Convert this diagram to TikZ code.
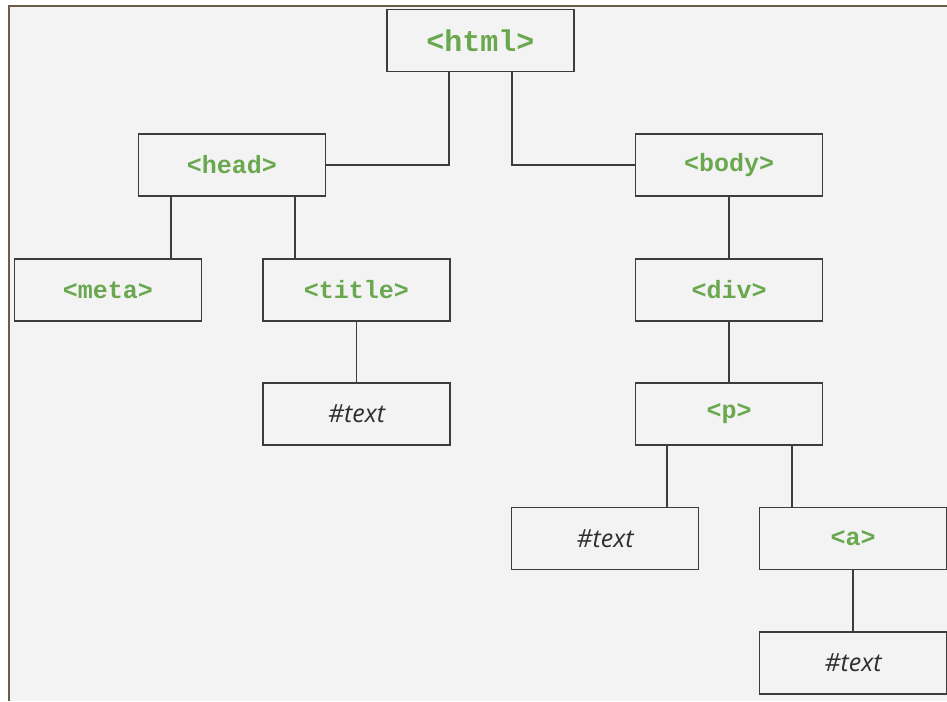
\documentclass[tikz,border=0pt]{standalone}
\usepackage{fontspec}
\setmainfont{Open Sans}
\newfontfamily\tagfont{Liberation Mono}
\newfontfamily\txtfont{Open Sans}
\definecolor{tagGreen}{HTML}{6AA84F}
\definecolor{edgeGray}{HTML}{3C3C3C}
\definecolor{frameBrown}{HTML}{6B5C45}
\definecolor{paper}{HTML}{F3F3F3}
\definecolor{txtGray}{HTML}{2E2E2E}
\tikzset{
  elem/.style={draw=edgeGray, line width=1.8pt, fill=paper,
    minimum width=187pt, minimum height=62pt, inner sep=0pt},
  tag/.style={elem, font=\tagfont\bfseries\fontsize{25}{28}\selectfont, text=tagGreen},
  txt/.style={elem, font=\txtfont\itshape\fontsize{25}{28}\selectfont, text=txtGray},
  link/.style={draw=edgeGray, line width=1.8pt}
}
\begin{document}
\begin{tikzpicture}[x=1pt, y=-1pt]
  \useasboundingbox (0,0) rectangle (947,701);
  % page background and frame
  \fill[white] (0,0) rectangle (947,701);
  \fill[paper] (9,6) rectangle (947,701);
  \draw[frameBrown, line width=2.4pt] (9,701) -- (9,6) -- (947,6);

  % element nodes
  \node[tag, font=\tagfont\bfseries\fontsize{30}{34}\selectfont] (html) at (480.5,40.5) {<html>};
  \node[tag] (head)  at (232,165)   {<head>};
  \node[tag] (body)  at (729,165)   {<body>};
  \node[tag] (meta)  at (108,290)   {<meta>};
  \node[tag] (title) at (356.5,290) {<title>};
  \node[tag] (div)   at (729,290)   {<div>};
  \node[txt] (t1)    at (356.5,414) {\#text};
  \node[tag] (p)     at (729,414)   {<p>};
  \node[txt] (t2)    at (605,538.5) {\#text};
  \node[tag] (a)     at (853,538.5) {<a>};
  \node[txt] (t3)    at (853,663)   {\#text};

  % tree connectors
  \draw[link] ([xshift=-31.5pt]html.south) |- (head.east);
  \draw[link] ([xshift=31.5pt]html.south) |- (body.west);
  \draw[link] ([xshift=-61pt]head.south) -- ([xshift=-61pt]head.south |- meta.north);
  \draw[link] ([xshift=63pt]head.south) -- ([xshift=63pt]head.south |- title.north);
  \draw[link] (title.south) -- (t1.north);
  \draw[link] (body.south) -- (div.north);
  \draw[link] (div.south) -- (p.north);
  \draw[link] ([xshift=-62pt]p.south) -- ([xshift=-62pt]p.south |- t2.north);
  \draw[link] ([xshift=63pt]p.south) -- ([xshift=63pt]p.south |- a.north);
  \draw[link] (a.south) -- (t3.north);
\end{tikzpicture}
\end{document}
